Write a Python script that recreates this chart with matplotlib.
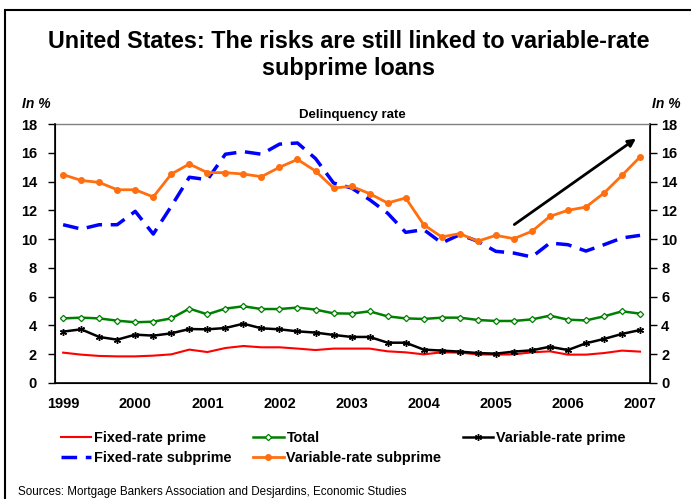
import matplotlib
matplotlib.use('Agg')
import matplotlib.pyplot as plt
from matplotlib.patches import Rectangle

plt.rcParams['font.family'] = ['Liberation Sans', 'DejaVu Sans']

# quarterly data, 1999Q1 .. 2007Q1
quarters = list(range(33))
year_labels = ['1999', '2000', '2001', '2002', '2003', '2004', '2005', '2006', '2007']

fixed_prime = [2.11, 1.97, 1.88, 1.85, 1.85, 1.90, 1.99, 2.32, 2.15, 2.43, 2.57, 2.48, 2.48,
               2.39, 2.29, 2.39, 2.39, 2.39, 2.20, 2.13, 1.99, 2.13, 2.11, 1.99, 1.97, 1.99,
               2.13, 2.20, 1.97, 1.97, 2.08, 2.25, 2.18]
total = [4.49, 4.54, 4.49, 4.33, 4.22, 4.26, 4.49, 5.17, 4.77, 5.17, 5.33, 5.14, 5.14,
         5.24, 5.10, 4.84, 4.82, 4.98, 4.63, 4.49, 4.45, 4.54, 4.54, 4.38, 4.31, 4.31,
         4.42, 4.68, 4.40, 4.35, 4.63, 4.98, 4.82]
var_prime = [3.57, 3.73, 3.20, 3.01, 3.36, 3.29, 3.45, 3.75, 3.73, 3.82, 4.12, 3.80, 3.73,
             3.59, 3.50, 3.34, 3.20, 3.20, 2.80, 2.80, 2.32, 2.25, 2.18, 2.08, 2.04, 2.18,
             2.27, 2.52, 2.29, 2.76, 3.06, 3.41, 3.68]
fixed_sub = [11.0, 10.7, 11.0, 11.0, 11.93, 10.35, 12.28, 14.3, 14.13, 15.9, 16.08, 15.9, 16.6,
             16.68, 15.6, 13.9, 13.55, 12.74, 11.8, 10.47, 10.66, 9.73, 10.31, 9.85, 9.15, 9.03,
             8.76, 9.73, 9.61, 9.17, 9.61, 10.08, 10.26]
var_sub = [14.48, 14.08, 13.94, 13.43, 13.43, 12.93, 14.52, 15.22, 14.62, 14.62, 14.52, 14.34, 14.99,
           15.54, 14.73, 13.55, 13.67, 13.16, 12.51, 12.86, 11.0, 10.15, 10.38, 9.85, 10.26, 10.03,
           10.54, 11.58, 12.0, 12.23, 13.2, 14.43, 15.71]
y_ticks = [0, 2, 4, 6, 8, 10, 12, 14, 16, 18]

fig = plt.figure(figsize=(6.91, 4.99), dpi=100)
ax = fig.add_axes([0.0796, 0.2325, 0.861, 0.519])

l1, = ax.plot(quarters, fixed_prime, color='#FF0000', lw=1.5, label='Fixed-rate prime')
l2, = ax.plot(quarters, fixed_sub, color='#0000FF', lw=2.5, linestyle=(0, (4.5, 2.5)),
              label='Fixed-rate subprime')
l3, = ax.plot(quarters, total, color='#008000', lw=1.8, marker='D', markersize=3.2,
              markerfacecolor='white', markeredgecolor='#008000', markeredgewidth=0.9, label='Total')
l4, = ax.plot(quarters, var_sub, color='#FF6F0F', lw=2, marker='o', markersize=4,
              label='Variable-rate subprime')
l5, = ax.plot(quarters, var_prime, color='black', lw=1.8, marker=(6, 2, 0), markersize=5,
              markeredgewidth=1, label='Variable-rate prime')

# trend arrow
ax.annotate('', xy=(31.9, 17.1), xytext=(24.9, 10.9),
            arrowprops=dict(arrowstyle='-|>', color='black', lw=2, mutation_scale=11))

ax.set_xlim(-0.45, 32.55)
ax.set_ylim(0, 18)
ax.set_yticks(y_ticks)
ax.set_xticks(quarters[::4])
ax.set_xticklabels(year_labels, fontsize=10.5, fontweight='bold')
ax.tick_params(axis='x', length=0, pad=10)
ax.tick_params(axis='y', direction='out', length=5, pad=8, labelsize=10.5, width=1)
for lab in ax.get_yticklabels():
    lab.set_fontweight('bold')
ax.spines['top'].set_color('#808080')
ax.spines['top'].set_linewidth(1)
for s in ['left', 'bottom', 'right']:
    ax.spines[s].set_linewidth(1.2)

ax2 = ax.twinx()
ax2.set_ylim(0, 18)
ax2.set_yticks(y_ticks)
ax2.tick_params(axis='y', direction='out', length=5, pad=3, labelsize=10.5, width=1)
for lab in ax2.get_yticklabels():
    lab.set_fontweight('bold')
ax2.spines['top'].set_visible(False)

ax.set_title('Delinquency rate', fontsize=9.5, fontweight='bold', pad=4)

fig.text(0.505, 0.890, 'United States: The risks are still linked to variable-rate\nsubprime loans',
         ha='center', va='center', fontsize=16.8, fontweight='bold', linespacing=1.2)
fig.text(0.032, 0.791, 'In %', fontsize=10, fontweight='bold', fontstyle='italic', va='center')
fig.text(0.943, 0.791, 'In %', fontsize=10, fontweight='bold', fontstyle='italic', va='center')

fig.legend(handles=[l1, l2, l3, l4, l5], loc='upper left', bbox_to_anchor=(0.088, 0.137),
           ncol=3, frameon=False, handlelength=2.1, handletextpad=0.2, columnspacing=1.5,
           labelspacing=0.45, borderaxespad=0, borderpad=0,
           prop={'weight': 'bold', 'size': 10.4})

fig.text(0.026, 0.014, 'Sources: Mortgage Bankers Association and Desjardins, Economic Studies',
         fontsize=8.4, va='center')

# outer frame
fig.patches.append(Rectangle((5 / 691, -0.1), 1.1, 1.1 - 10 / 499, transform=fig.transFigure,
                             fill=False, edgecolor='black', lw=1.5))

fig.savefig('out.png', dpi=100)
